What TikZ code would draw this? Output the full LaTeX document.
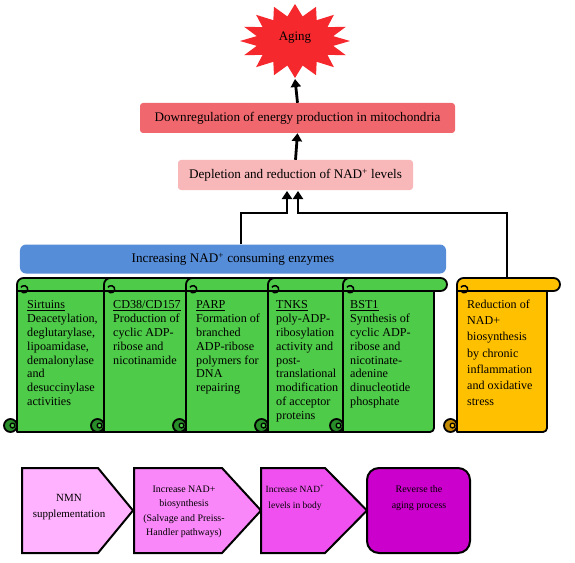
\documentclass[tikz,border=0pt]{standalone}
\usepackage{fontspec}
\setmainfont{Liberation Serif}
\usetikzlibrary{arrows.meta}
\definecolor{agingred}{RGB}{245,40,45}
\definecolor{downred}{RGB}{240,104,110}
\definecolor{deplpink}{RGB}{248,184,186}
\definecolor{enzblue}{RGB}{86,141,216}
\definecolor{scrollgreen}{RGB}{78,203,72}
\definecolor{scrolldkgreen}{RGB}{40,140,40}
\definecolor{scrollyellow}{RGB}{255,192,0}
\definecolor{scrolldkyellow}{RGB}{195,140,0}
\definecolor{stepA}{RGB}{255,178,255}
\definecolor{stepB}{RGB}{250,135,250}
\definecolor{stepC}{RGB}{240,80,240}
\definecolor{stepD}{RGB}{204,0,204}
\tikzset{
  scrollline/.style={draw=black, line width=1.8bp, line join=round},
  arr/.style={line width=2.8bp, -{Triangle[length=8bp,width=10bp]}, line join=miter},
  barbox/.style={draw=none, rounded corners=3bp, inner sep=0pt, font=\fontsize{13.2}{15}\selectfont},
  scrolltext/.style={anchor=north west, inner sep=0pt, align=left, font=\fontsize{12.2}{13.9}\selectfont},
  steptext/.style={inner sep=0pt, align=center},
  stepline/.style={draw=black, line width=2bp, line join=miter}
}
% #1 L  #2 R  #3 T  #4 B  #5 fill  #6 dark
\newcommand\drawscroll[6]{%
  \filldraw[fill=#5, scrollline] ({#1},{#3+6.5}) -- ({#1},{#4}) [rounded corners=4bp] -- ({#2-13},{#4}) -- ({#2-13},{#3+6.5}) [sharp corners] -- cycle;
  \filldraw[fill=#5, scrollline] ({#1},{#3+13}) -- ({#1},{#3+6.5}) arc[start angle=180,end angle=270,radius=6.5] -- ({#2-6.5},{#3}) arc[start angle=-90,end angle=90,radius=6.5] -- cycle;
  \draw[scrollline, line width=1.5bp] ({#1+4},{#3+13}) arc[start angle=150,end angle=-150,radius=3.6];
  \filldraw[fill=#6, scrollline] ({#1-6.5},{#4-6.5}) circle[radius=6.5];
  \filldraw[fill=#5, scrollline, line width=1.3bp] ({#1-4.5},{#4-6.5}) circle[radius=2.4];
}
\begin{document}
\begin{tikzpicture}[x=1bp, y=-1bp]
\useasboundingbox (0,0) rectangle (575,563);

% star
\fill[agingred] (350,41) \foreach \i in {0,...,15}{ -- ({295+39*cos(\i*22.5+11.25)},{41+25*sin(\i*22.5+11.25)}) -- ({295+55*cos((\i+1)*22.5)},{41+37*sin((\i+1)*22.5)}) } -- cycle;
\node[inner sep=0pt, font=\fontsize{13}{15}\selectfont] (aging) at (295,38) {Aging};
\coordinate (agingtip) at (295,79);

\node[barbox, fill=downred, minimum width=315bp, minimum height=30bp] (down) at (297.5,118) {Downregulation of energy production in mitochondria};
\node[barbox, fill=deplpink, minimum width=235bp, minimum height=30bp] (depl) at (295.5,175) {Depletion and reduction of NAD\textsuperscript{+} levels};
\node[barbox, rounded corners=6bp, fill=enzblue, minimum width=426bp, minimum height=29bp] (enz) at (233,259) {Increasing NAD\textsuperscript{+} consuming enzymes};

\draw[arr] (down.north) -- (agingtip);
\draw[arr] (depl.north) -- (down.south);

\coordinate (j1) at (241,213);
\coordinate (a1) at (287,191);
\coordinate (a2) at (298,191);
\coordinate (ytop) at (507,278);
\draw[arr] (enz.north -| j1) -- (j1) -- (j1 -| a1) -- (a1);
\draw[arr] (ytop) -- (ytop |- j1) -- (j1 -| a2) -- (a2);

% scrolls
\drawscroll{17}{123}{278}{432}{scrollgreen}{scrolldkgreen}
\drawscroll{104}{205}{278}{432}{scrollgreen}{scrolldkgreen}
\drawscroll{186}{286}{278}{432}{scrollgreen}{scrolldkgreen}
\drawscroll{268}{361}{278}{432}{scrollgreen}{scrolldkgreen}
\drawscroll{343}{447}{278}{432}{scrollgreen}{scrolldkgreen}
\drawscroll{457}{560}{278}{432}{scrollyellow}{scrolldkyellow}

\node[scrolltext] (s1) at (27,300.5) {\underline{Sirtuins}\\Deacetylation,\\deglutarylase,\\lipoamidase,\\demalonylase\\and\\desuccinylase\\activities};
\node[scrolltext] (s2) at (113,300.5) {\underline{CD38/CD157}\\Production of\\cyclic ADP-\\ribose and\\nicotinamide};
\node[scrolltext] (s3) at (196,300.5) {\underline{PARP}\\Formation of\\branched\\ADP-ribose\\polymers for\\DNA\\repairing};
\node[scrolltext] (s4) at (276,300.5) {\underline{TNKS}\\poly-ADP-\\ribosylation\\activity and\\post-\\translational\\modification\\of acceptor\\proteins};
\node[scrolltext] (s5) at (350,300.5) {\underline{BST1}\\Synthesis of\\cyclic ADP-\\ribose and\\nicotinate-\\adenine\\dinucleotide\\phosphate};
\node[scrolltext, font=\fontsize{12.1}{16.2}\selectfont] (s6) at (467,300) {Reduction of\\NAD+\\biosynthesis\\by chronic\\inflammation\\and oxidative\\stress};

% bottom steps
\filldraw[stepline, fill=stepA] (22,468) -- (98,468) -- (133,510.5) -- (98,553) -- (22,553) -- cycle;
\filldraw[stepline, fill=stepB] (134,468) -- (222,468) -- (261,510.5) -- (222,553) -- (134,553) -- cycle;
\filldraw[stepline, fill=stepC] (261,468) -- (325,468) -- (367,510.5) -- (325,553) -- (261,553) -- cycle;
\filldraw[stepline, fill=stepD, rounded corners=12bp] (367,468) rectangle (470,553);

\node[steptext, font=\fontsize{11}{16}\selectfont] (t1) at (69,507) {NMN\\supplementation};
\node[steptext, font=\fontsize{10}{14.5}\selectfont] (t2) at (184,512) {Increase NAD+\\biosynthesis\\(Salvage and Preiss-\\Handler pathways)};
\node[steptext, font=\fontsize{9.5}{16}\selectfont] (t3) at (295,498) {Increase NAD\textsuperscript{+}\\levels in body};
\node[steptext, font=\fontsize{10}{16}\selectfont] (t4) at (419,498) {Reverse the\\aging process};
\end{tikzpicture}
\end{document}
